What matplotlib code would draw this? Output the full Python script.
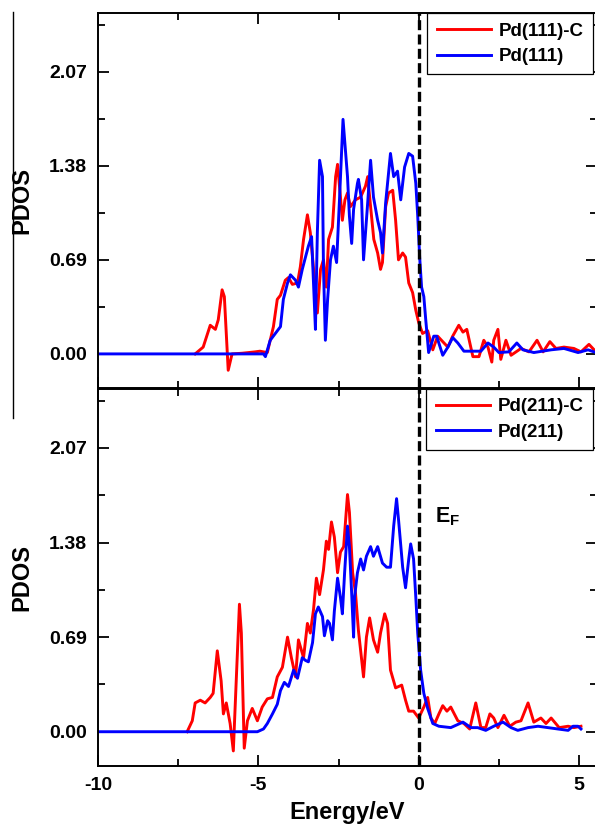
import matplotlib
matplotlib.use('Agg')
import matplotlib.pyplot as plt
from matplotlib.lines import Line2D
from matplotlib.ticker import MultipleLocator

plt.rcParams['font.family'] = ['Liberation Sans', 'DejaVu Sans']
plt.rcParams['font.weight'] = 'bold'
plt.rcParams['mathtext.fontset'] = 'custom'
plt.rcParams['mathtext.rm'] = 'Liberation Sans:bold'
plt.rcParams['mathtext.bf'] = 'Liberation Sans:bold'

# Pd(111)-C
e_111c = [-6.97, -6.72, -6.5, -6.34, -6.25, -6.13, -6.06, -5.94, -5.82, -5.5, -5.1, -4.95, -4.84,
          -4.72, -4.53, -4.41, -4.31, -4.16, -4.06, -3.94, -3.78, -3.69, -3.59, -3.47, -3.38, -3.31,
          -3.25, -3.16, -3.06, -2.97, -2.88, -2.81, -2.69, -2.59, -2.53, -2.44, -2.38, -2.3, -2.22,
          -2.13, -1.97, -1.81, -1.66, -1.59, -1.5, -1.4, -1.28, -1.19, -1.13, -1.03, -0.94, -0.81,
          -0.72, -0.63, -0.5, -0.41, -0.31, -0.19, -0.09, 0.0, 0.12, 0.28, 0.44, 0.59, 0.75, 0.91,
          1.06, 1.25, 1.38, 1.5, 1.69, 1.88, 2.03, 2.16, 2.28, 2.34, 2.47, 2.56, 2.72, 2.88, 3.19,
          3.44, 3.69, 3.88, 4.09, 4.28, 4.53, 4.84, 5.06, 5.31, 5.53]
pdos_111c = [0.0, 0.05, 0.21, 0.18, 0.25, 0.47, 0.42, -0.12, 0.0, 0.005, 0.015, 0.02, 0.015,
             0.01, 0.2, 0.40, 0.43, 0.54, 0.56, 0.51, 0.52, 0.64, 0.84, 1.02, 0.89, 0.71,
             0.54, 0.30, 0.62, 0.69, 0.49, 0.84, 0.93, 1.30, 1.39, 1.15, 0.98, 1.13, 1.18,
             1.08, 1.13, 1.15, 1.23, 1.30, 1.08, 0.84, 0.74, 0.62, 0.67, 1.08, 1.18, 1.20,
             0.98, 0.69, 0.74, 0.71, 0.52, 0.45, 0.32, 0.23, 0.15, 0.17, 0.03, 0.13, 0.09, 0.05,
             0.13, 0.21, 0.16, 0.18, -0.02, -0.02, 0.10, 0.05, -0.06, 0.10, 0.18, -0.04, 0.10, -0.01, 0.04,
             0.015, 0.10, 0.015, 0.09, 0.04, 0.05, 0.04, 0.015, 0.07, 0.015]

# Pd(111)
e_111 = [-10.0, -4.84, -4.78, -4.63, -4.47, -4.31, -4.22, -4.09, -4.0, -3.84, -3.75, -3.63, -3.53,
         -3.44, -3.34, -3.28, -3.22, -3.16, -3.09, -3.0, -2.97, -2.91, -2.84, -2.75, -2.66, -2.56,
         -2.47, -2.36, -2.22, -2.16, -2.09, -2.03, -1.91, -1.88, -1.78, -1.72, -1.59, -1.5, -1.41,
         -1.28, -1.19, -1.13, -1.03, -0.88, -0.78, -0.66, -0.56, -0.44, -0.31, -0.19, -0.09, -0.03,
         0.03, 0.09, 0.16, 0.22, 0.31, 0.47, 0.56, 0.75, 0.91, 1.06, 1.22, 1.41, 1.94, 2.16, 2.34,
         2.5, 2.81, 3.06, 3.25, 3.59, 4.13, 4.53, 4.97, 5.28, 5.53]
pdos_111 = [0.0, 0.0, -0.02, 0.10, 0.15, 0.20, 0.40, 0.52, 0.58, 0.54, 0.49, 0.62, 0.71,
            0.79, 0.86, 0.52, 0.18, 0.89, 1.42, 1.30, 0.64, 0.10, 0.40, 0.69, 0.79, 0.67,
            1.13, 1.72, 1.30, 1.01, 0.81, 1.06, 1.25, 1.28, 1.13, 0.69, 1.11, 1.42, 1.15,
            0.98, 0.89, 0.74, 1.11, 1.47, 1.30, 1.34, 1.13, 1.37, 1.47, 1.45, 1.25, 1.01,
            0.71, 0.49, 0.42, 0.25, 0.01, 0.13, 0.13, -0.01, 0.05, 0.12, 0.08, 0.02, 0.02, 0.08, 0.05,
            0.01, 0.015, 0.08, 0.03, 0.01, 0.03, 0.04, 0.01, 0.03, 0.01]

# Pd(211)-C
e_211c = [-7.22, -7.06, -6.97, -6.81, -6.66, -6.5, -6.41, -6.28, -6.16, -6.09, -6.0, -5.88, -5.78,
          -5.69, -5.59, -5.53, -5.44, -5.34, -5.19, -5.03, -4.88, -4.72, -4.56, -4.41, -4.25, -4.09,
          -3.97, -3.84, -3.75, -3.59, -3.47, -3.38, -3.28, -3.19, -3.09, -2.97, -2.88, -2.81, -2.72,
          -2.63, -2.53, -2.44, -2.34, -2.22, -2.16, -2.06, -1.97, -1.88, -1.72, -1.63, -1.53, -1.41,
          -1.28, -1.19, -1.06, -0.97, -0.88, -0.72, -0.53, -0.41, -0.31, -0.16, 0.0, 0.16, 0.28, 0.38,
          0.5, 0.63, 0.75, 0.88, 1.0, 1.22, 1.41, 1.59, 1.78, 1.94, 2.09, 2.22, 2.34, 2.47, 2.66, 2.84,
          3.03, 3.19, 3.41, 3.59, 3.81, 3.97, 4.13, 4.38, 4.66, 4.84, 5.06]
pdos_211c = [0.0, 0.08, 0.21, 0.23, 0.21, 0.25, 0.28, 0.59, 0.37, 0.13, 0.21, 0.06, -0.14,
             0.37, 0.93, 0.72, -0.12, 0.08, 0.17, 0.08, 0.18, 0.24, 0.25, 0.40, 0.47, 0.69,
             0.54, 0.40, 0.67, 0.54, 0.79, 0.72, 0.89, 1.12, 1.00, 1.18, 1.39, 1.33, 1.53,
             1.42, 1.16, 1.31, 1.35, 1.73, 1.60, 1.16, 1.01, 0.74, 0.40, 0.69, 0.83, 0.67,
             0.58, 0.72, 0.86, 0.79, 0.45, 0.32, 0.34, 0.23, 0.15, 0.15, 0.10, 0.18, 0.25, 0.10,
             0.06, 0.13, 0.19, 0.15, 0.18, 0.08, 0.06, 0.02, 0.21, 0.03, 0.03, 0.13, 0.10, 0.03, 0.12, 0.04,
             0.07, 0.08, 0.21, 0.07, 0.10, 0.06, 0.10, 0.03, 0.04, 0.03, 0.04]

# Pd(211)
e_211 = [-10.0, -5.03, -4.84, -4.72, -4.56, -4.41, -4.31, -4.19, -4.06, -3.9, -3.78, -3.63, -3.53,
         -3.44, -3.31, -3.22, -3.13, -3.0, -2.94, -2.84, -2.78, -2.69, -2.63, -2.53, -2.44, -2.38,
         -2.31, -2.22, -2.16, -2.09, -2.03, -2.0, -1.91, -1.81, -1.72, -1.63, -1.5, -1.41, -1.28,
         -1.13, -1.0, -0.88, -0.78, -0.69, -0.63, -0.5, -0.41, -0.31, -0.25, -0.16, -0.09, -0.03,
         0.06, 0.16, 0.28, 0.44, 0.63, 1.0, 1.38, 1.63, 1.84, 2.09, 2.34, 2.63, 2.88, 3.09, 3.41,
         3.72, 4.03, 4.34, 4.66, 4.81, 4.97, 5.06]
pdos_211 = [0.0, 0.0, 0.02, 0.06, 0.13, 0.20, 0.30, 0.36, 0.33, 0.45, 0.39, 0.54, 0.52,
            0.51, 0.65, 0.86, 0.91, 0.84, 0.70, 0.81, 0.79, 0.67, 0.88, 1.12, 0.98, 0.86,
            1.16, 1.50, 1.35, 1.01, 0.69, 0.98, 1.16, 1.26, 1.18, 1.28, 1.35, 1.28, 1.35,
            1.23, 1.20, 1.20, 1.50, 1.70, 1.55, 1.20, 1.05, 1.26, 1.37, 1.26, 0.98, 0.72,
            0.45, 0.28, 0.17, 0.06, 0.04, 0.03, 0.07, 0.03, 0.03, 0.01, 0.04, 0.07, 0.03, 0.01, 0.03,
            0.04, 0.03, 0.02, 0.01, 0.04, 0.04, 0.02]

y_ticks = [0.00, 0.69, 1.38, 2.07]
x_ticks = [-10, -5, 0, 5]

panels = [
    (e_111c, pdos_111c, 'Pd(111)-C', e_111, pdos_111, 'Pd(111)'),
    (e_211c, pdos_211c, 'Pd(211)-C', e_211, pdos_211, 'Pd(211)'),
]

W, H = 595, 824
fig = plt.figure(figsize=(W / 100, H / 100), dpi=100)
left, right = 98, 597
ax_top = fig.add_axes([left / W, 1 - 388 / H, (right - left) / W, 375 / H])
ax_bot = fig.add_axes([left / W, 1 - 766 / H, (right - left) / W, 377 / H])

for ax, (ea, pa, la, eb, pb, lb) in zip([ax_top, ax_bot], panels):
    ax.plot(ea, pa, color='#ff0000', lw=2.1, label=la)
    ax.plot(eb, pb, color='#0000ff', lw=2.1, label=lb)
    ax.axvline(0, color='k', lw=2.4, ls=(0, (3, 1.3)))
    ax.set_xlim(-10, 5.56)
    ax.set_ylim(-0.25, 2.5)
    ax.set_xticks(x_ticks)
    ax.set_xticklabels([str(t) for t in x_ticks])
    ax.set_yticks(y_ticks)
    ax.set_yticklabels(['%.2f' % t for t in y_ticks])
    ax.xaxis.set_minor_locator(MultipleLocator(2.5))
    ax.yaxis.set_minor_locator(MultipleLocator(0.345))
    ax.tick_params(which='both', direction='in', top=True, right=True, width=1.3,
                   labelsize=14, pad=8)
    ax.tick_params(which='major', length=8)
    ax.tick_params(which='minor', length=5)
    for s in ax.spines.values():
        s.set_linewidth(1.4)
    ax.set_ylabel('PDOS', fontsize=17, fontweight='bold')
    ax.yaxis.set_label_coords(-0.13, 0.5)
    leg = ax.legend(loc='upper right', bbox_to_anchor=(1 - 4 / (right - left), 1),
                    borderaxespad=0, fancybox=False, edgecolor='k', framealpha=1,
                    prop={'weight': 'bold', 'size': 13.5}, handlelength=2.9,
                    handletextpad=0.4, borderpad=0.5, labelspacing=0.45)
    leg.get_frame().set_linewidth(0.9)

ax_top.tick_params(labelbottom=False)
ax_bot.set_xlabel('Energy/eV', fontsize=17, fontweight='bold')
ax_bot.xaxis.set_label_coords(0.5, -0.092)
ax_bot.text(0.5, 1.53, r'$\mathbf{E_F}$', fontsize=15.5, ha='left', va='baseline')

# thin frame line on the left edge
fig.add_artist(Line2D([13 / W, 13 / W], [1 - 12 / H, 1 - 418 / H],
                      transform=fig.transFigure, color='k', lw=1.0))

fig.savefig('out.png', dpi=100)
